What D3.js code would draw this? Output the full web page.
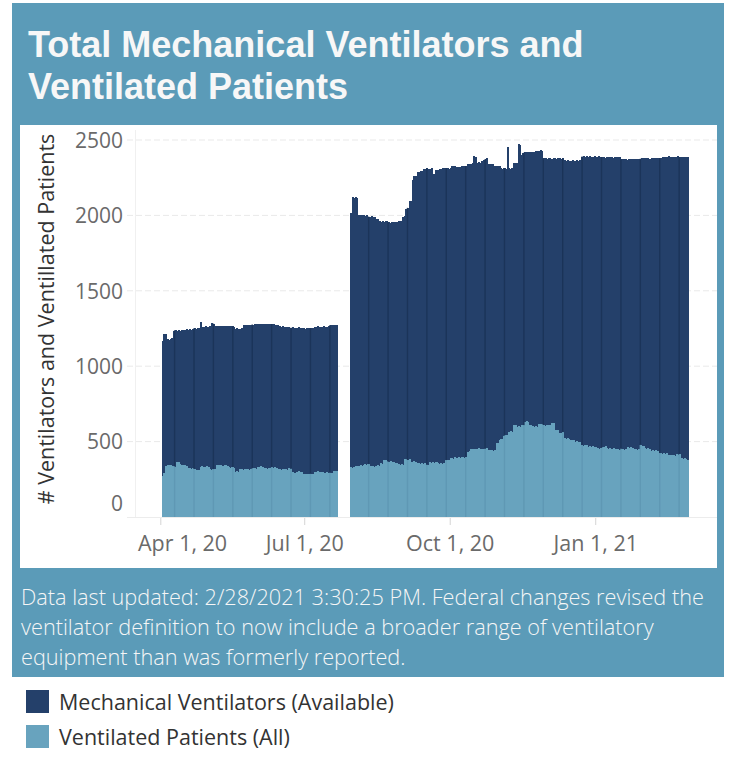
<!DOCTYPE html>
<html><head><meta charset="utf-8">
<script src="https://cdn.jsdelivr.net/npm/d3@7"></script>
<style>body{margin:0;background:#fff;} svg{display:block}</style>
</head><body>
<svg id="c" width="738" height="768"></svg>
<script>
// ---------------- DATA ----------------
const titleLines = ["Total Mechanical Ventilators and", "Ventilated Patients"];
const yAxisTitle = "# Ventilators and Ventillated Patients";
const footerLines = [
  "Data last updated: 2/28/2021 3:30:25 PM. Federal changes revised the",
  "ventilator definition to now include a broader range of ventilatory",
  "equipment than was formerly reported."
];
const seriesNames = ["Mechanical Ventilators (Available)", "Ventilated Patients (All)"];
const seriesColors = ["#24406a", "#68a3be"];

const yTicks = [0, 500, 1000, 1500, 2000, 2500];
const xTickDates = ["2020-04-01", "2020-07-01", "2020-10-01", "2021-01-01"];
const xTickLabels = ["Apr 1, 20", "Jul 1, 20", "Oct 1, 20", "Jan 1, 21"];

// first reporting period (daily, starting 2020-04-02)
const period1Start = "2020-04-02";
const totalVentilators1 = [
  1165,1215,1212,1180,1175,1178,1190,1232,
  1238,1235,1240,1236,1242,1238,1240,1244,1240,1246,1242,1248,
  1252,1250,1254,1256,1295,
  1262,1260,1264,1262,1260,1266,
  1284,1282,
  1268,1266,1268,1266,1265,1268,1266,1264,1266,1265,1266,1264,1262,
  1250,1252,1248,1250,1254,
  1272,1274,1270,1272,1275,1273,1276,
  1280,1282,1280,1278,1282,1280,1281,1279,1282,1280,1278,1280,1281,
  1272,1270,1274,1268,
  1262,1264,1260,1262,1258,1262,
  1255,1258,1254,1256,1252,1258,1255,1254,1256,1250,1254,1255,1252,1256,1254,
  1262,1260,1264,1258,1262,1260,1264,1262,1260,1266,
  1272,1274,1272,1275,1273
];
const ventilatedPatients1 = [
  275,290,
  340,348,344,346,
  336,338,334,
  368,362,
  350,345,348,342,340,
  325,322,320,326,318,
  312,310,314,
  332,336,330,334,338,332,
  318,314,316,320,
  342,346,344,348,340,346,344,338,
  330,328,332,326,
  300,304,298,
  316,318,312,320,316,318,314,320,
  322,326,320,
  334,330,336,332,
  322,326,320,324,322,
  330,326,332,328,
  316,318,314,320,316,318,314,
  322,320,
  296,292,294,
  300,302,298,300,
  286,284,288,282,286,284,288,
  300,298,302,296,300,298,
  294,292,296,290,294,292,
  304,306,302
];

// second reporting period (daily, starting 2020-07-30)
const period2Start = "2020-07-30";
const totalVentilators2 = [
  2018,
  2120,2118,2122,2115,
  2003,2000,2005,2002,1998,2000,
  1992,1990,1994,1988,1990,
  1976,1978,
  1960,1958,1962,1956,1960,
  1965,1954,1952,1955,1953,1956,
  1958,1960,1962,1965,
  1990,1995,
  2045,2050,
  2095,2098,
  2235,
  2262,2260,
  2285,2290,2292,2295,
  2308,2310,2312,2310,2308,2312,
  2272,2275,
  2300,2302,2305,
  2310,2312,2315,2312,2314,2310,2316,
  2328,2326,2330,
  2320,2322,2318,
  2328,2326,2330,2327,
  2340,2342,2338,2345,
  2395,2385,
  2350,2352,2348,
  2362,2365,
  2372,2378,
  2342,2340,2338,2344,
  2328,2325,2330,2326,
  2312,2310,2314,2308,
  2456,
  2312,2310,2315,
  2345,2348,
  2350,2472,2468,
  2400,
  2415,2418,2420,2418,2422,2420,2418,2421,
  2428,2430,2427,2432,2429,
  2378,2380,2376,2379,2381,2377,2380,2378,2376,2379,2380,2377,2378,
  2365,2362,2366,2364,2363,2365,2361,2364,2366,2363,2365,
  2390,2392,2388,2391,2389,2393,2390,2388,2392,2390,2389,2391,2388,
  2384,2386,2383,2387,2385,2384,2386,2382,2385,2387,2384,2386,
  2374,2376,2372,2375,2370,2373,2376,2374,2371,2375,2373,2374,2376,
  2380,2378,2382,2379,2381,2377,2380,2383,2379,2381,2378,2380,2382,
  2388,2390,2386,2389,2391,2387,2390,2388,2386,2389,2391,2388,2390,2387,2389,2388,2390
];
const ventilatedPatients2 = [
  330,326,334,
  338,340,336,342,338,
  348,352,346,350,
  338,336,340,334,338,342,336,
  356,354,
  376,380,372,
  366,370,364,368,
  356,358,352,
  348,350,346,
  382,386,378,384,
  368,364,370,366,
  356,358,352,360,354,356,
  346,348,
  362,358,364,360,362,
  356,352,358,354,356,
  376,380,378,
  388,392,386,
  396,394,398,392,396,400,394,398,
  432,436,
  448,450,
  452,454,450,456,452,454,450,452,455,
  444,442,446,440,444,
  488,492,
  512,516,514,
  540,546,544,
  562,568,565,
  608,612,
  598,602,596,
  612,608,
  628,634,630,
  610,612,606,
  598,602,596,
  616,620,614,
  610,606,612,608,610,
  624,626,
  578,574,580,
  560,556,562,
  524,520,526,518,
  512,508,510,
  498,502,496,500,
  478,474,476,480,
  466,468,462,468,464,466,
  456,454,458,
  466,462,468,
  455,452,458,454,456,450,
  448,450,446,452,448,444,450,
  462,460,464,458,
  448,452,446,450,
  478,474,470,
  456,452,458,454,
  440,442,438,444,436,
  422,426,420,424,418,422,
  412,408,414,410,406,
  418,414,416,
  390,386,392,384,380
];

// ---------------- BUILD ----------------
const DAY = 86400000;
const parse = s => new Date(s + "T00:00:00Z");
function buildRows(start, totals, patients) {
  const t0 = parse(start).getTime();
  return totals.map((t, i) => ({ date: new Date(t0 + i * DAY), total: t, patients: patients[i] }));
}
const periods = [
  buildRows(period1Start, totalVentilators1, ventilatedPatients1),
  buildRows(period2Start, totalVentilators2, ventilatedPatients2)
];

const svg = d3.select("#c");
const teal = "#5b9bb8";

// panels
svg.append("rect").attr("x", 12).attr("y", 3).attr("width", 712).attr("height", 674).attr("fill", teal);
svg.append("rect").attr("x", 20).attr("y", 125).attr("width", 697).attr("height", 443).attr("fill", "#fff");

// title
svg.append("g").selectAll("text").data(titleLines).join("text")
  .attr("x", 28).attr("y", (d, i) => 57 + i * 42)
  .attr("font-family", "'Liberation Sans', Arial, sans-serif")
  .attr("font-weight", "bold").attr("font-size", 36)
  .attr("fill", "#f7f7f7").text(d => d);

// scales
const x = d3.scaleUtc().domain([parse("2020-03-16"), parse("2021-03-19")]).range([135, 717]);
const y = d3.scaleLinear().domain([0, 2500]).range([517, 140]);
const fontUI = "'Open Sans', Lato, sans-serif";

// gridlines
svg.append("g").selectAll("line").data(yTicks.filter(v => v > 0)).join("line")
  .attr("x1", 127).attr("x2", 717).attr("y1", d => y(d)).attr("y2", d => y(d))
  .attr("stroke", "#e9e9e9").attr("stroke-width", 1).attr("stroke-dasharray", "6,3");
svg.append("line").attr("x1", 127).attr("x2", 717).attr("y1", y(0) + 0.5).attr("y2", y(0) + 0.5)
  .attr("stroke", "#ececec");
svg.append("line").attr("x1", 135.5).attr("x2", 135.5).attr("y1", 130).attr("y2", 517)
  .attr("stroke", "#f0f0f0");

// bars
const bars = svg.append("g").attr("shape-rendering", "crispEdges");
periods.forEach(rows => {
  const g = bars.append("g");
  g.selectAll("rect.avail").data(rows).join("rect").attr("class", "avail")
    .attr("x", d => x(d.date)).attr("width", d => x(new Date(+d.date + DAY)) - x(d.date) + 0.45)
    .attr("y", d => y(d.total)).attr("height", d => y(0) - y(d.total))
    .attr("fill", seriesColors[0]);
  g.selectAll("rect.pat").data(rows).join("rect").attr("class", "pat")
    .attr("x", d => x(d.date)).attr("width", d => x(new Date(+d.date + DAY)) - x(d.date) + 0.45)
    .attr("y", d => y(d.patients)).attr("height", d => y(0) - y(d.patients))
    .attr("fill", seriesColors[1]);
});

// rendering seams (periodic darker lines seen in the original image)
const apr1 = parse("2020-04-01").getTime();
const seams = [];
d3.range(9.04, 336, 12.27).forEach(dd => {
  const t = apr1 + dd * DAY;
  periods.forEach(rows => {
    const first = +rows[0].date, last = +rows[rows.length - 1].date + DAY;
    if (t > first + DAY * 0.5 && t < last - DAY * 0.5) {
      const r = rows[Math.floor((t - first) / DAY)];
      seams.push({ t: new Date(t), r });
    }
  });
});
const sg = svg.append("g");
sg.selectAll("line.sd").data(seams).join("line")
  .attr("x1", d => x(d.t)).attr("x2", d => x(d.t))
  .attr("y1", d => y(d.r.total)).attr("y2", d => y(d.r.patients))
  .attr("stroke", "#1b3459").attr("stroke-width", 1.4);
sg.selectAll("line.sl").data(seams).join("line")
  .attr("x1", d => x(d.t)).attr("x2", d => x(d.t))
  .attr("y1", d => y(d.r.patients)).attr("y2", y(0))
  .attr("stroke", "#5f98b4").attr("stroke-width", 1.4);

// y axis
const yAxis = svg.append("g").attr("transform", "translate(123,0)")
  .call(d3.axisLeft(y).tickValues(yTicks).tickSize(0).tickPadding(0).tickFormat(d3.format("d")));
yAxis.select(".domain").remove();
yAxis.selectAll("text").attr("font-family", fontUI).attr("font-size", 21).attr("fill", "#6a6a6a")
  .attr("dy", "0.35em")
  .attr("y", d => d === 0 ? -14 : 0);

svg.append("text").attr("transform", "translate(54,319) rotate(-90)")
  .attr("text-anchor", "middle").attr("font-family", fontUI).attr("font-size", 21.5)
  .attr("fill", "#333").text(yAxisTitle);

// x axis
const xAxis = svg.append("g").attr("transform", `translate(0,${y(0) + 1})`)
  .call(d3.axisBottom(x).tickValues(xTickDates.map(parse)).tickSize(7).tickPadding(11)
    .tickFormat((d, i) => xTickLabels[i]));
xAxis.select(".domain").remove();
xAxis.selectAll("line").attr("stroke", "#d4d4d4");
xAxis.selectAll("text").attr("font-family", fontUI).attr("font-size", 21.5).attr("fill", "#6a6a6a");
// keep labels inside the pane like the original
xAxis.selectAll("text").each(function () {
  const b = this.getBBox();
  const tr = d3.select(this.parentNode).attr("transform");
  const tx = +tr.match(/translate\(([-\d.]+)/)[1];
  if (tx + b.x < 138) d3.select(this).attr("x", 138 - (tx + b.x));
});

// footer
svg.append("g").selectAll("text").data(footerLines).join("text")
  .attr("x", 21).attr("y", (d, i) => 605 + i * 30)
  .attr("font-family", fontUI).attr("font-weight", 300).attr("font-size", 21.7)
  .attr("fill", "#f6f6f6").text(d => d);

// legend
const lg = svg.append("g").selectAll("g").data(seriesNames).join("g")
  .attr("transform", (d, i) => `translate(26,${690 + i * 35})`);
lg.append("rect").attr("width", 23).attr("height", 23).attr("fill", (d, i) => seriesColors[i]);
lg.append("text").attr("x", 33).attr("y", 12).attr("dy", "0.35em")
  .attr("font-family", fontUI).attr("font-size", 21.5).attr("fill", "#333").text(d => d);
</script>
</body></html>
